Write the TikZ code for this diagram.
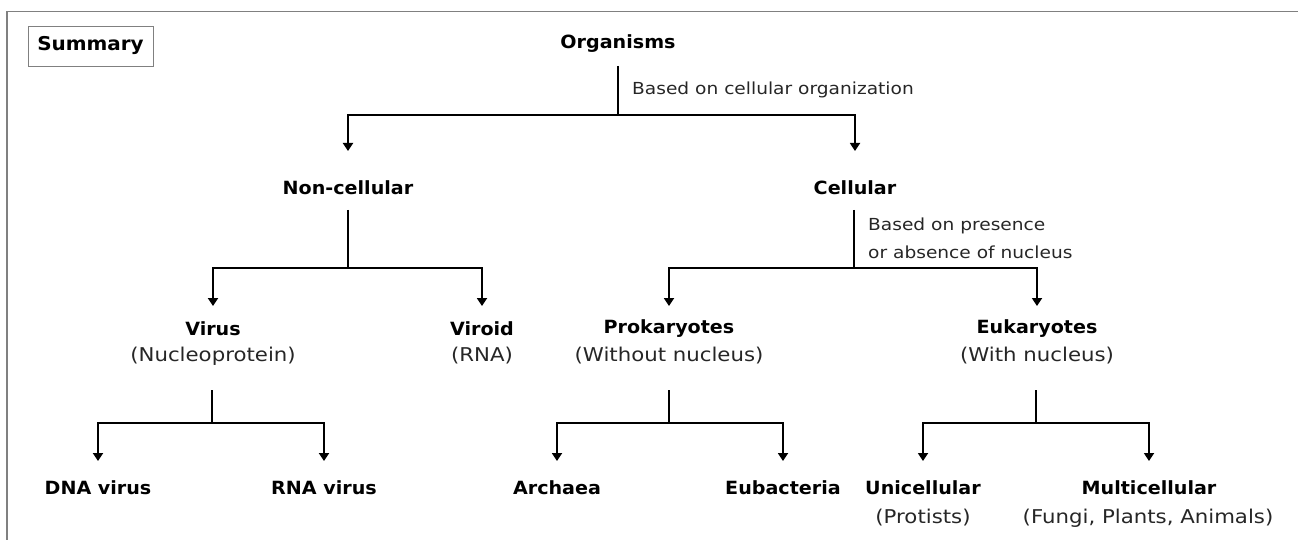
\documentclass[tikz,border=0pt]{standalone}
\usepackage{fontspec}
\setmainfont{DejaVu Sans}
\newfontfamily\regf[FakeStretch=1.12]{DejaVu Sans}
\newfontfamily\boldf[FakeStretch=1.05]{DejaVu Sans Bold}
\usetikzlibrary{arrows.meta}
\begin{document}
\begin{tikzpicture}[x=1pt,y=-1pt,
  frame/.style={draw=black!50,line width=1.2pt},
  cat/.style={font=\boldf\fontsize{18.2}{21}\selectfont,inner sep=0pt},
  sub/.style={font=\regf\fontsize{19}{22}\selectfont,inner sep=0pt,text=black!85},
  note/.style={font=\regf\fontsize{16.6}{19}\selectfont,inner sep=0pt,anchor=west,text=black!85},
  link/.style={draw=black,line width=1.8pt},
  arr/.style={link,-{Triangle[width=10pt,length=8pt]}}]
\useasboundingbox (0,0) rectangle (1298,540);
% frame
\draw[frame] (7,540) -- (7,11.5) -- (1298,11.5);
\node[draw=black!50,line width=0.8pt,minimum width=125pt,minimum height=40pt,inner sep=0pt,
  font=\boldf\fontsize{19}{22}\selectfont] (summ) at (90.5,46) {Summary};
% nodes
\node[cat] (org) at (618,44) {Organisms};
\node[note] (n1) at (632,90) {Based on cellular organization};
\node[cat] (nonc) at (348,188) {Non-cellular};
\node[cat] (cell) at (855,188) {Cellular};
\node[note] (n2a) at (868,226) {Based on presence};
\node[note] (n2b) at (868,252) {or absence of nucleus};
\node[cat] (virus) at (213,329) {Virus};
\node[sub] (virusd) at (213,356) {(Nucleoprotein)};
\node[cat] (viroid) at (482,329) {Viroid};
\node[sub] (viroidd) at (482,356) {(RNA)};
\node[cat] (pro) at (669,329) {Prokaryotes};
\node[sub] (prod) at (669,356) {(Without nucleus)};
\node[cat] (euk) at (1037,329) {Eukaryotes};
\node[sub] (eukd) at (1037,356) {(With nucleus)};
\node[cat] (dna) at (98,488) {DNA virus};
\node[cat] (rna) at (324,488) {RNA virus};
\node[cat] (arch) at (557,488) {Archaea};
\node[cat] (eub) at (783,488) {Eubacteria};
\node[cat] (uni) at (923,488) {Unicellular};
\node[sub] (unid) at (923,518) {(Protists)};
\node[cat] (multi) at (1149,488) {Multicellular};
\node[sub] (multid) at (1148,518) {(Fungi, Plants, Animals)};
% junction and arrow-end coordinates
\coordinate (s1) at (618,66);  \coordinate (j1) at (618,115); \coordinate (e1) at (0,151);
\coordinate (s2) at (348,210); \coordinate (j2) at (348,268); \coordinate (e2) at (0,306);
\coordinate (s3) at (854,210); \coordinate (j3) at (854,268);
\coordinate (s4) at (212,390); \coordinate (j4) at (212,423); \coordinate (e3) at (0,461);
\coordinate (s5) at (669,390); \coordinate (j5) at (669,423);
\coordinate (s6) at (1036,390); \coordinate (j6) at (1036,423);
% level 1
\draw[link] (s1) -- (j1);
\draw[arr] (j1) -| (nonc |- e1);
\draw[arr] (j1) -| (cell |- e1);
% level 2
\draw[link] (s2) -- (j2);
\draw[arr] (j2) -| (virus |- e2);
\draw[arr] (j2) -| (viroid |- e2);
\draw[link] (s3) -- (j3);
\draw[arr] (j3) -| (pro |- e2);
\draw[arr] (j3) -| (euk |- e2);
% level 3
\draw[link] (s4) -- (j4);
\draw[arr] (j4) -| (dna |- e3);
\draw[arr] (j4) -| (rna |- e3);
\draw[link] (s5) -- (j5);
\draw[arr] (j5) -| (arch |- e3);
\draw[arr] (j5) -| (eub |- e3);
\draw[link] (s6) -- (j6);
\draw[arr] (j6) -| (uni |- e3);
\draw[arr] (j6) -| (multi |- e3);
\end{tikzpicture}
\end{document}
